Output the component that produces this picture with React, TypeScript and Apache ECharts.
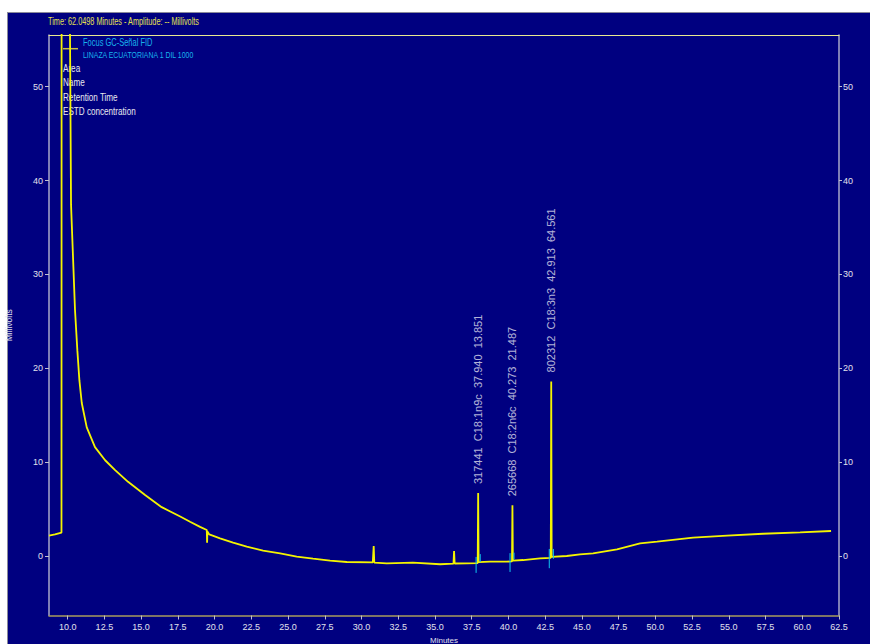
import { useEffect, useRef } from "react";
import * as echarts from "echarts";

// Chromatogram trace (minutes, millivolts); the solvent front runs off scale
const traceTimes = [
  8.73, 9.14, 9.58, 9.6, 10.12, 10.16, 10.23, 10.39, 10.5, 10.66, 10.8, 10.96,
  11.3, 11.86, 12.55, 13.23, 14.11, 15.27, 16.4, 17.66, 18.33, 19.01, 19.47,
  19.49, 19.51, 19.64, 20.37, 21.26, 22.19, 23.3, 24.46, 25.59, 26.7, 27.86,
  29.0, 30.77, 30.83, 30.87, 31.72, 33.5, 35.35, 36.26, 36.3, 36.34, 37.16,
  38.75, 39.88, 41.0, 42.15, 43.97, 44.87, 45.76, 47.39, 48.96, 50.12, 52.57,
  54.88, 57.33, 59.85, 61.96,
];
const traceValues = [
  2.18, 2.3, 2.5, 150, 150, 55.5, 37.4, 30.8, 26.2, 21.9, 18.7, 16.3,
  13.7, 11.6, 10.2, 9.15, 7.9, 6.5, 5.2, 4.2, 3.65, 3.1, 2.77,
  1.4, 2.6, 2.3, 1.88, 1.42, 1.0, 0.56, 0.28, -0.07, -0.29, -0.5,
  -0.64, -0.67, 1.07, -0.7, -0.78, -0.71, -0.88, -0.82, 0.53, -0.8, -0.78,
  -0.6, -0.6, -0.43, -0.25, 0.0, 0.18, 0.28, 0.71, 1.35, 1.52, 1.95,
  2.16, 2.37, 2.52, 2.66,
];

// Identified peaks
const peakAreas = [317441, 265668, 802312];
const peakNames = ["C18:1n9c", "C18:2n6c", "C18:3n3"];
const peakTimes = [37.94, 40.273, 42.913];
const peakConc = [13.851, 21.487, 64.561];
const peakHeights = [6.7, 5.4, 18.6];
const peakBaseLeft = [-0.75, -0.58, -0.2];
const peakBaseRight = [-0.65, -0.5, -0.1];

// Integration start / end markers
const markerTimes = [37.8, 38.08, 40.11, 40.38, 42.78, 43.06];
const markerLow = [-1.8, -0.65, -1.7, -0.35, -1.3, -0.3];
const markerHigh = [-0.1, 0.2, 0.3, 0.35, 0.75, 0.75];

// Axis ticks
const xTicks = [10, 12.5, 15, 17.5, 20, 22.5, 25, 27.5, 30, 32.5, 35, 37.5, 40, 42.5, 45, 47.5, 50, 52.5, 55, 57.5, 60, 62.5];
const yTicks = [0, 10, 20, 30, 40, 50];

const infoLines = ["Area", "Name", "Retention Time", "ESTD concentration"];
const infoY = [68, 82, 97, 111];

const SANS = "'Liberation Sans', Arial, sans-serif";
const TICK_FONT = "'Liberation Sans Narrow', 'Arial Narrow', 'Liberation Sans', Arial, sans-serif";

function buildTrace(): [number, number][] {
  const pts: [number, number][] = traceTimes.map((t, i) => [t, traceValues[i]]);
  peakTimes.forEach((t, i) => {
    pts.push([t - 0.03, peakBaseLeft[i]]);
    pts.push([t, peakHeights[i]]);
    pts.push([t + 0.03, peakBaseRight[i]]);
  });
  pts.sort((a, b) => a[0] - b[0]);
  return pts;
}

function squeezedText(text: string, x: number, y: number, size: number, fill: string, sx: number) {
  return {
    type: "text",
    x,
    y,
    scaleX: sx,
    style: {
      text,
      fill,
      font: `${size}px ${SANS}`,
      textAlign: "left",
      textVerticalAlign: "middle",
      align: "left",
      verticalAlign: "middle",
    },
  };
}

export default function App() {
  const ref = useRef<HTMLDivElement>(null);

  useEffect(() => {
    if (!ref.current) return;
    const chart = echarts.init(ref.current, null, { renderer: "svg" });

    const labelColor = "#e2e2ec";
    const markerSeries = markerTimes.map((t, i) => ({
      type: "line" as const,
      data: [
        [t, markerLow[i]],
        [t, markerHigh[i]],
      ],
      showSymbol: false,
      symbol: "none",
      lineStyle: { color: "#10c8f0", width: 1 },
      z: 4,
    }));

    chart.setOption({
      animation: false,
      backgroundColor: "transparent",
      grid: { left: 49, right: 31, top: 35, bottom: 28.5, outerBoundsMode: "none", containLabel: false },
      xAxis: [
        {
          type: "value",
          min: 8.73,
          max: 62.5,
          position: "bottom",
          axisLine: { show: true, onZero: false, lineStyle: { color: "#a89c5c", width: 1.5 } },
          axisTick: { show: true, length: 4, customValues: xTicks, lineStyle: { color: "#c0c0d0" } },
          axisLabel: {
            customValues: xTicks,
            formatter: (v: number) => v.toFixed(1),
            color: labelColor,
            fontSize: 9,
            fontFamily: TICK_FONT,
            margin: 7,
          },
          splitLine: { show: false },
          name: "Minutes",
          nameLocation: "middle",
          nameGap: 19,
          nameTextStyle: { color: labelColor, fontSize: 8, fontFamily: TICK_FONT },
        },
        {
          type: "value",
          min: 8.73,
          max: 62.5,
          position: "top",
          axisLine: { show: true, onZero: false, lineStyle: { color: "#e8e890", width: 1 } },
          axisTick: { show: false },
          axisLabel: { show: false },
          splitLine: { show: false },
        },
      ],
      yAxis: [
        {
          type: "value",
          min: -6.34,
          max: 55.5,
          position: "left",
          axisLine: { show: true, onZero: false, lineStyle: { color: "#a8a8c8", width: 1.5 } },
          axisTick: { show: true, length: 4, customValues: yTicks, lineStyle: { color: "#c0c0d0" } },
          axisLabel: {
            customValues: yTicks,
            color: labelColor,
            fontSize: 9,
            fontFamily: TICK_FONT,
            margin: 6,
          },
          splitLine: { show: false },
          name: "Millivolts",
          nameLocation: "middle",
          nameRotate: 90,
          nameGap: 36,
          nameTextStyle: { color: labelColor, fontSize: 8.5, fontFamily: TICK_FONT },
        },
        {
          type: "value",
          min: -6.34,
          max: 55.5,
          position: "right",
          axisLine: { show: true, onZero: false, lineStyle: { color: "#a8a8c8", width: 1.5 } },
          axisTick: { show: true, length: 3, customValues: yTicks, lineStyle: { color: "#c0c0d0" } },
          axisLabel: {
            customValues: yTicks,
            color: labelColor,
            fontSize: 9,
            fontFamily: TICK_FONT,
            margin: 4,
          },
          splitLine: { show: false },
        },
      ],
      series: [
        {
          type: "line",
          name: "Focus GC-Señal FID",
          data: buildTrace(),
          showSymbol: false,
          symbol: "none",
          clip: true,
          lineStyle: { color: "#f4f400", width: 1.8 },
          z: 3,
        },
        ...markerSeries,
        {
          type: "scatter",
          data: peakTimes.map((t, i) => [t, peakHeights[i]]),
          symbolSize: 0,
          z: 5,
          label: {
            show: true,
            position: "top",
            distance: 9,
            rotate: 90,
            align: "left",
            verticalAlign: "middle",
            color: "#e4e4f0",
            fontSize: 11,
            fontFamily: SANS,
            formatter: (p: { dataIndex: number }) => {
              const i = p.dataIndex;
              return `${peakAreas[i]}  ${peakNames[i]}  ${peakTimes[i].toFixed(3)}  ${peakConc[i].toFixed(3)}`;
            },
          },
        },
      ],
      graphic: [
        squeezedText("Time: 62.0498 Minutes - Amplitude: -- Millivolts", 48, 22, 10, "#e4e050", 0.73),
        {
          type: "line",
          shape: { x1: 63, y1: 48.7, x2: 78, y2: 48.7 },
          style: { stroke: "#c8c040", lineWidth: 1.5 },
        },
        squeezedText("Focus GC-Señal FID", 83, 43, 10, "#18b4ec", 0.75),
        squeezedText("LINAZA ECUATORIANA 1 DIL 1000", 83, 54.5, 9.5, "#18b4ec", 0.73),
        ...infoLines.map((s, i) => squeezedText(s, 63, infoY[i], 11, "#e8e8ee", 0.74)),
      ],
    });

    return () => chart.dispose();
  }, []);

  return (
    <div style={{ position: "fixed", left: 0, top: 0, width: 870, height: 644, background: "#ffffff" }}>
      <div
        style={{
          position: "absolute",
          left: 7,
          top: 12,
          right: 0,
          bottom: 0,
          background: "#000080",
          borderTop: "1px solid #8a8a9a",
          borderLeft: "1px solid #8a8a9a",
        }}
      />
      <div ref={ref} style={{ position: "absolute", left: 0, top: 0, width: 870, height: 644 }} />
    </div>
  );
}
